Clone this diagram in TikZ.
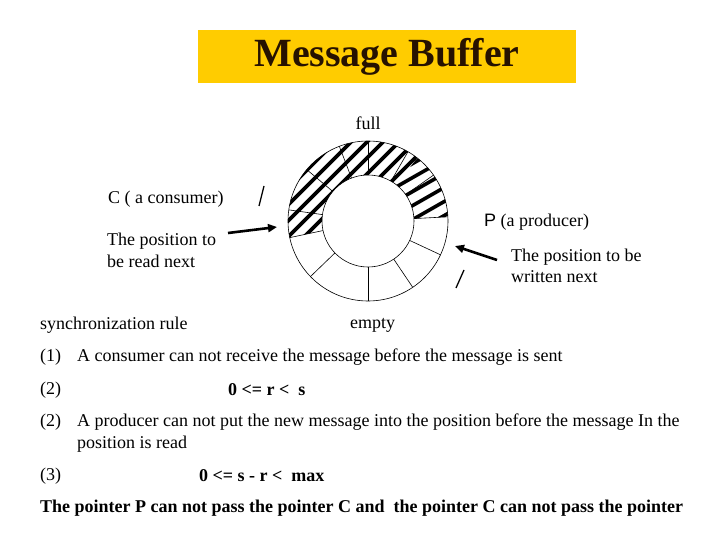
\documentclass[tikz,border=0pt]{standalone}
\usepackage{fontspec}
\setmainfont{Liberation Serif}
\newfontfamily\sansP{Liberation Sans}
\usetikzlibrary{positioning, arrows.meta, calc}
\definecolor{titleyellow}{RGB}{255,204,0}
\definecolor{titleink}{RGB}{38,18,0}

\begin{document}
\begin{tikzpicture}[x=1pt, y=1pt, >=Latex,
  txt/.style={anchor=west, inner sep=0pt, font=\fontsize{18}{21.5}\selectfont, align=left},
  formula/.style={anchor=west, inner sep=0pt, font=\fontsize{18}{21.5}\selectfont\bfseries},
  ptr/.style={-{Triangle[length=9pt,width=8pt]}, line width=2.6pt},
  tick/.style={line width=1.3pt},
  hatch/.style={line width=3.6pt},
  ring/.style={line width=0.6pt}]

  \useasboundingbox (0,0) rectangle (720,-540);

  \node[fill=titleyellow, minimum width=378pt, minimum height=53pt, inner sep=0pt,
    font=\fontsize{40}{44}\selectfont\bfseries, text=titleink] (title) at (387,-56.5) {Message Buffer};

  % the buffer ring
  \coordinate (ctr) at (368,-221);
  \begin{scope}
    \clip ($(ctr)+(3:80)$) arc[start angle=3, end angle=192, radius=80]
      -- ($(ctr)+(192:46)$) arc[start angle=192, end angle=3, radius=46] -- cycle;
    \begin{scope}
      \clip (ctr) -- ($(ctr)+(52:150)$) -- ($(ctr)+(-200,118)$) -- ($(ctr)+(-200,-60)$) -- ($(ctr)+(0,-60)$) -- cycle;
      \foreach \k in {-160,-144,...,160}
        \draw[hatch] ($(ctr)+(\k,0)+(-100,-100)$) -- ($(ctr)+(\k,0)+(100,100)$);
    \end{scope}
    \begin{scope}
      \clip (ctr) -- ($(ctr)+(52:150)$) -- ($(ctr)+(150,118)$) -- ($(ctr)+(150,-30)$) -- cycle;
      \foreach \k in {-150,-136,...,150}
        \draw[hatch] ($(ctr)+(0,\k)+(-100,-57)$) -- ($(ctr)+(0,\k)+(100,57)$);
    \end{scope}
  \end{scope}
  \draw[ring] (ctr) circle[radius=80];
  \draw[ring] (ctr) circle[radius=46];
  \foreach \a in {3,35,60,90,111,140,172,192,224,270,304,335}
    \draw[ring] ($(ctr)+(\a:46)$) -- ($(ctr)+(\a:80)$);

  % labels round the ring
  \node[txt, anchor=center] (full) at (368,-123) {full};
  \node[txt] (cons) at (108,-199) {C ( a consumer)};
  \node[txt] (consnote) at (107,-250.5) {The position to\\be read next};
  \node[txt] (prod) at (484,-222) {{\sansP P} (a producer)};
  \node[txt] (prodnote) at (511,-266) {The position to be\\written next};
  \node[txt] (empty) at (350,-325) {empty};

  % pointers
  \coordinate (ctail) at (228,-233);
  \coordinate (chead) at (277,-227);
  \coordinate (ptail) at (497,-260);
  \coordinate (phead) at (455,-246);
  \draw[ptr] (ctail) -- (chead);
  \draw[ptr] (ptail) -- (phead);
  \coordinate (cmark1) at (259,-206);
  \coordinate (cmark2) at (264,-186);
  \coordinate (pmark1) at (456,-288);
  \coordinate (pmark2) at (464,-270);
  \draw[tick] (cmark1) -- (cmark2);
  \draw[tick] (pmark1) -- (pmark2);

  % synchronization rule
  \node[txt] (sync) at (40,-325) {synchronization rule};
  \node[txt] (num1) at (40,-357) {(1)};
  \node[txt] (rule1) at (77,-357) {A consumer can not receive the message before the message is sent};
  \node[txt] (num2) at (40,-390) {(2)};
  \node[formula] (cond1) at (228,-390) {0 <= r <\ \ s};
  \node[txt] (num2b) at (40,-422) {(2)};
  \node[txt] (rule2) at (77,-433) {A producer can not put the new message into the position before the message In the\\position is read};
  \node[txt] (num3) at (40,-476) {(3)};
  \node[formula] (cond2) at (199,-476) {0 <= s - r <\ \ max};
  \node[formula] (last) at (40,-508) {The pointer P can not pass the pointer C and\ \ the pointer C can not pass the pointer};
\end{tikzpicture}
\end{document}
